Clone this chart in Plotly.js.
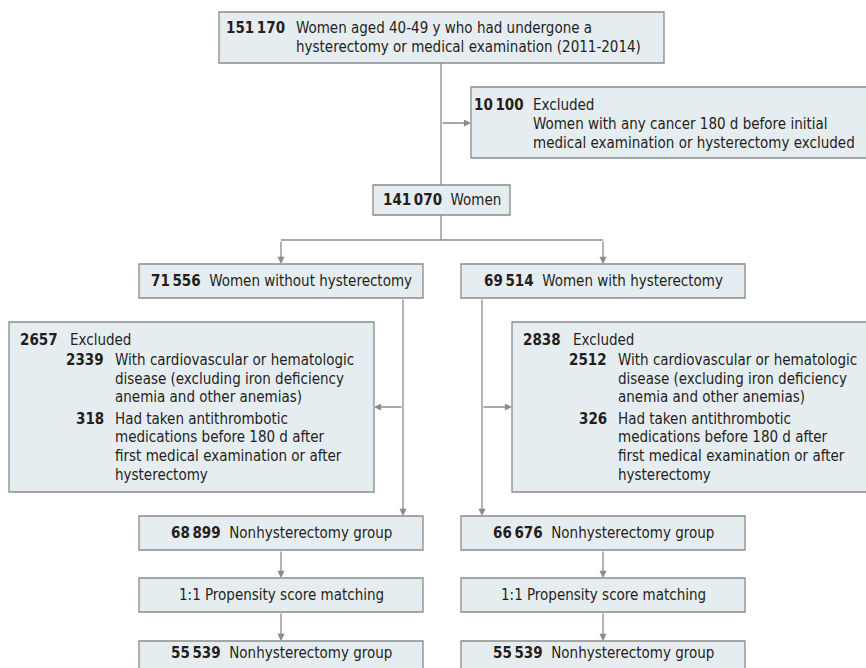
<!DOCTYPE html>
<html>
<head>
<meta charset="utf-8">
<script src="https://cdn.plot.ly/plotly-3.0.1.min.js"></script>
<style>html,body{margin:0;padding:0;background:#fff;}#chart{width:866px;height:668px;}</style>
</head>
<body>
<div id="chart"></div>
<script>
// ---------------- DATA (counts and labels) ----------------
const totalN = "151\u2009170";
const totalLabel = ["Women aged 40-49 y who had undergone a", "hysterectomy or medical examination (2011-2014)"];
const excl1N = "10\u2009100";
const excl1Label = ["Excluded", "Women with any cancer 180 d before initial", "medical examination or hysterectomy excluded"];
const womenN = "141\u2009070";
const womenLabel = "Women";
const armN = ["71\u2009556", "69\u2009514"];
const armLabel = ["Women without hysterectomy", "Women with hysterectomy"];
const exclArmN = ["2657", "2838"];
const exclArmLabel = "Excluded";
const exclSubN = [["2339", "318"], ["2512", "326"]];
const exclSubLabel = [
  ["With cardiovascular or hematologic", "disease (excluding iron deficiency", "anemia and other anemias)"],
  ["Had taken antithrombotic", "medications before 180 d after", "first medical examination or after", "hysterectomy"]
];
const groupN = ["68\u2009899", "66\u2009676"];
const groupLabel = ["Nonhysterectomy group", "Nonhysterectomy group"];
const matchLabel = ["1:1 Propensity score matching", "1:1 Propensity score matching"];
const matchedN = ["55\u2009539", "55\u2009539"];
const matchedLabel = ["Nonhysterectomy group", "Nonhysterectomy group"];

// ---------------- LAYOUT GEOMETRY (pixel space) ----------------
const G = {
  top: {x0: 219, y0: 12, x1: 664, y1: 63, numR: 287, txtL: 294, lines: [28, 47]},
  ex1: {x0: 471, y0: 87, x1: 880, y1: 158, numR: 526, txtL: 531, lines: [104.5, 124, 143]},
  women: {x0: 373, y0: 185, x1: 510, y1: 215},
  arm: [{x0: 139, x1: 423}, {x0: 461, x1: 745}],
  armY: [264, 298],
  exArm: [{x0: 9, x1: 374}, {x0: 512, x1: 880}],
  exArmY: [322, 492],
  exOff: {numR: 51, txtL: 59, subR: 97, subL: 104},
  exLines: [339.5, 360, 378.7, 397.4, 418.5, 437.2, 455.9, 474.6],
  groupY: [516, 550],
  matchY: [578, 612],
  matchedY: [641, 690],
  matchedTextY: 653,
  spineX: 441,
  branchY: 240,
  sideX: [403, 482],
  sideArrowY: 407,
  topArrowY: 123
};

const FILL = "#e6edf1", BORDER = "#8a8a8a", LINE = "#8c8c8c", TXT = "#231f20";
const FONT = "'Liberation Sans Narrow', 'DejaVu Sans Condensed', 'Roboto Condensed', Arial, sans-serif";
const FS = 15;

const shapes = [];
const annotations = [];

function box(x0, y0, x1, y1) {
  shapes.push({type: "rect", xref: "x", yref: "y", x0, y0, x1, y1,
    fillcolor: FILL, line: {color: BORDER, width: 1.3}, layer: "below"});
}
function seg(x0, y0, x1, y1) {
  shapes.push({type: "line", xref: "x", yref: "y", x0, y0, x1, y1,
    line: {color: LINE, width: 1.3}});
}
function arrow(tx, ty, hx, hy) {
  annotations.push({xref: "x", yref: "y", axref: "x", ayref: "y",
    x: hx, y: hy, ax: tx, ay: ty, text: "", showarrow: true,
    arrowhead: 2, arrowsize: 1.1, arrowwidth: 1.3, arrowcolor: LINE, standoff: 0, startstandoff: 0});
}
function txt(x, y, text, anchor, bold) {
  annotations.push({xref: "x", yref: "y", x, y, xanchor: anchor, yanchor: "middle",
    text: bold ? "<b>" + text + "</b>" : text, showarrow: false,
    font: {family: FONT, size: FS, color: TXT}, align: anchor === "center" ? "center" : anchor});
}
function centered(x0, x1, y, num, label) {
  const t = (num ? "<b>" + num + "</b>\u00a0\u00a0" : "") + label;
  annotations.push({xref: "x", yref: "y", x: (x0 + x1) / 2, y, xanchor: "center", yanchor: "middle",
    text: t, showarrow: false, font: {family: FONT, size: FS, color: TXT}});
}

// top box
box(G.top.x0, G.top.y0, G.top.x1, G.top.y1);
txt(G.top.numR, G.top.lines[0], totalN, "right", true);
totalLabel.forEach((l, i) => txt(G.top.txtL, G.top.lines[i], l, "left", false));

// spine & first exclusion
seg(G.spineX, G.top.y1, G.spineX, G.women.y0);
arrow(G.spineX, G.topArrowY, G.ex1.x0, G.topArrowY);
box(G.ex1.x0, G.ex1.y0, G.ex1.x1, G.ex1.y1);
txt(G.ex1.numR, G.ex1.lines[0], excl1N, "right", true);
excl1Label.forEach((l, i) => txt(G.ex1.txtL, G.ex1.lines[i], l, "left", false));

// women box
box(G.women.x0, G.women.y0, G.women.x1, G.women.y1);
centered(G.women.x0, G.women.x1, (G.women.y0 + G.women.y1) / 2, womenN, womenLabel);

// branch
seg(G.spineX, G.women.y1, G.spineX, G.branchY);
const cx = G.arm.map(a => (a.x0 + a.x1) / 2);
seg(cx[0], G.branchY, cx[1], G.branchY);

[0, 1].forEach(k => {
  const a = G.arm[k];
  arrow(cx[k], G.branchY, cx[k], G.armY[0]);
  box(a.x0, G.armY[0], a.x1, G.armY[1]);
  centered(a.x0, a.x1, (G.armY[0] + G.armY[1]) / 2, armN[k], armLabel[k]);

  arrow(G.sideX[k], G.armY[1], G.sideX[k], G.groupY[0]);
  const e = G.exArm[k];
  box(e.x0, G.exArmY[0], e.x1, G.exArmY[1]);
  const hx = k === 0 ? e.x1 : e.x0;
  arrow(G.sideX[k], G.sideArrowY, hx, G.sideArrowY);
  txt(e.x0 + G.exOff.numR, G.exLines[0], exclArmN[k], "right", true);
  txt(e.x0 + G.exOff.txtL, G.exLines[0], exclArmLabel, "left", false);
  let li = 1;
  exclSubLabel.forEach((grp, gi) => {
    txt(e.x0 + G.exOff.subR, G.exLines[li], exclSubN[k][gi], "right", true);
    grp.forEach(l => { txt(e.x0 + G.exOff.subL, G.exLines[li], l, "left", false); li++; });
  });

  box(a.x0, G.groupY[0], a.x1, G.groupY[1]);
  centered(a.x0, a.x1, (G.groupY[0] + G.groupY[1]) / 2, groupN[k], groupLabel[k]);
  arrow(cx[k], G.groupY[1], cx[k], G.matchY[0]);
  box(a.x0, G.matchY[0], a.x1, G.matchY[1]);
  centered(a.x0, a.x1, (G.matchY[0] + G.matchY[1]) / 2, null, matchLabel[k]);
  arrow(cx[k], G.matchY[1], cx[k], G.matchedY[0]);
  box(a.x0, G.matchedY[0], a.x1, G.matchedY[1]);
  centered(a.x0, a.x1, G.matchedTextY, matchedN[k], matchedLabel[k]);
});

const layout = {
  width: 866, height: 668,
  margin: {l: 0, r: 0, t: 0, b: 0},
  paper_bgcolor: "#ffffff", plot_bgcolor: "#ffffff",
  xaxis: {range: [0, 866], visible: false, fixedrange: true},
  yaxis: {range: [668, 0], visible: false, fixedrange: true},
  showlegend: false,
  shapes, annotations
};

Plotly.newPlot("chart", [], layout, {displayModeBar: false, staticPlot: true});
</script>
</body>
</html>
